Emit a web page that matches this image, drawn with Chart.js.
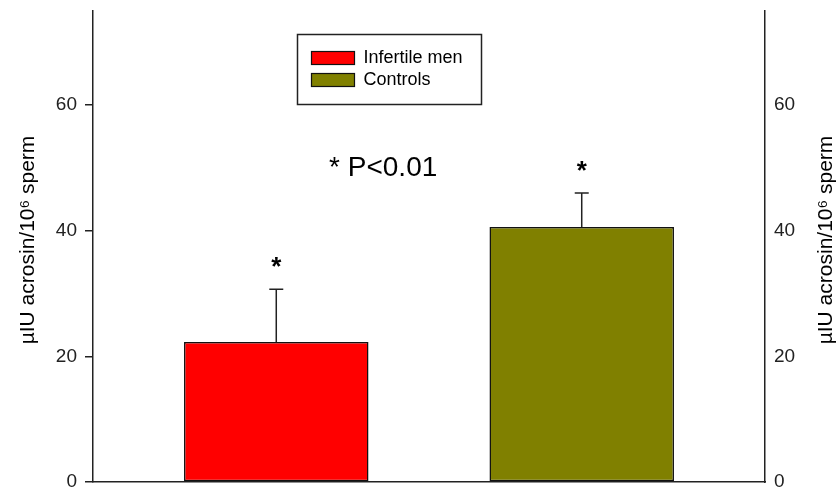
<!DOCTYPE html>
<html>
<head>
<meta charset="utf-8">
<script src="https://cdn.jsdelivr.net/npm/chart.js@4.4.1/dist/chart.umd.min.js"></script>
<style>
  html, body { margin: 0; padding: 0; background: #fff; }
  #wrap { width: 838px; height: 487px; }
</style>
</head>
<body>
<div id="wrap"><canvas id="chart"></canvas></div>
<script>
// data
const groups = ["Infertile men", "Controls"];
const positions = [1, 2];
const means = [22.3, 40.6];
const errors = [8.4, 5.4];
const colors = ["#ff0000", "#808000"];
const yTicks = [0, 20, 40, 60];
const yMax = 75;
const axisTitle = "µIU acrosin/10⁶ sperm";
const note = "* P<0.01";

const FONT = '"Liberation Sans", Arial, sans-serif';
const INK = '#222';

const datasets = groups.map((g, i) => ({
    label: g,
    data: [{ x: positions[i], y: means[i] }],
    backgroundColor: colors[i],
    borderColor: '#111',
    borderWidth: 1.5,
    borderSkipped: false,
    grouped: false,
    categoryPercentage: 0.604,
    barPercentage: 1,
    yAxisID: 'y'
}));

// error bars, asterisks, p-value note, legend box, axis titles
const extras = {
    id: 'extras',
    afterDatasetsDraw(chart) {
        const ctx = chart.ctx;
        const xs = chart.scales.x, ys = chart.scales.y;
        ctx.save();

        // error bars (upper only)
        ctx.strokeStyle = INK;
        ctx.lineWidth = 1.5;
        groups.forEach((g, i) => {
            const px = xs.getPixelForValue(positions[i]);
            const top = ys.getPixelForValue(means[i] + errors[i]);
            const base = ys.getPixelForValue(means[i]);
            ctx.beginPath();
            ctx.moveTo(px, base);
            ctx.lineTo(px, top);
            ctx.moveTo(px - 7, top);
            ctx.lineTo(px + 7, top);
            ctx.stroke();

            ctx.fillStyle = '#000';
            ctx.font = 'bold 26px ' + FONT;
            ctx.textAlign = 'center';
            ctx.textBaseline = 'middle';
            ctx.fillText('*', px, top - 21);
        });

        // p-value note
        ctx.fillStyle = '#000';
        ctx.font = '28px ' + FONT;
        ctx.textAlign = 'center';
        ctx.textBaseline = 'middle';
        ctx.fillText(note, xs.getPixelForValue(1.35), ys.getPixelForValue(50));

        // legend box
        const lx = 297.5, ly = 34.5;
        ctx.strokeStyle = INK;
        ctx.lineWidth = 1.5;
        ctx.strokeRect(lx, ly, 184, 70);
        ctx.font = '18px ' + FONT;
        ctx.textAlign = 'left';
        groups.forEach((g, i) => {
            const sy = ly + 17 + i * 22;
            ctx.fillStyle = colors[i];
            ctx.fillRect(lx + 14, sy, 43, 13);
            ctx.strokeStyle = '#111';
            ctx.lineWidth = 1.2;
            ctx.strokeRect(lx + 14, sy, 43, 13);
            ctx.fillStyle = '#000';
            ctx.fillText(g, lx + 66, sy + 7);
        });

        // axis titles (both read bottom to top)
        ctx.font = '21px ' + FONT;
        ctx.fillStyle = '#000';
        ctx.textAlign = 'center';
        ctx.textBaseline = 'middle';
        [28, 826].forEach(tx => {
            ctx.save();
            ctx.translate(tx, 240);
            ctx.rotate(-Math.PI / 2);
            ctx.fillText(axisTitle, 0, 0);
            ctx.restore();
        });

        ctx.restore();
    }
};

function fixY(width) {
    return s => {
        s.width = width;
        s.paddingTop = 0;
        s.paddingBottom = 0;
    };
}

new Chart(document.getElementById('chart'), {
    type: 'bar',
    data: { datasets: datasets },
    plugins: [extras],
    options: {
        responsive: true,
        maintainAspectRatio: false,
        animation: false,
        layout: { padding: { top: 11, left: 0, right: 0, bottom: 0 } },
        plugins: {
            legend: { display: false },
            tooltip: { enabled: false }
        },
        scales: {
            x: {
                type: 'linear',
                min: 0.4,
                max: 2.6,
                offset: false,
                afterBuildTicks: s => { s.ticks = positions.map(v => ({ value: v })); },
                grid: { display: false },
                ticks: { display: false },
                border: { display: true, color: INK, width: 1.5 },
                afterFit: s => { s.height = 5; s.paddingLeft = 0; s.paddingRight = 0; }
            },
            y: {
                position: 'left',
                min: 0,
                max: yMax,
                afterBuildTicks: s => { s.ticks = yTicks.map(v => ({ value: v })); },
                grid: { drawOnChartArea: false, drawTicks: true, tickLength: 8, color: INK, lineWidth: 1.5 },
                border: { display: true, color: INK, width: 1.5 },
                ticks: { color: '#222', padding: 8, font: { family: FONT, size: 19 } },
                afterFit: fixY(93)
            },
            y2: {
                position: 'right',
                min: 0,
                max: yMax,
                afterBuildTicks: s => { s.ticks = yTicks.map(v => ({ value: v })); },
                grid: { drawOnChartArea: false, drawTicks: false },
                border: { display: true, color: INK, width: 1.5 },
                ticks: { color: '#222', padding: 9, font: { family: FONT, size: 19 } },
                afterFit: fixY(73)
            }
        }
    }
});
</script>
</body>
</html>
